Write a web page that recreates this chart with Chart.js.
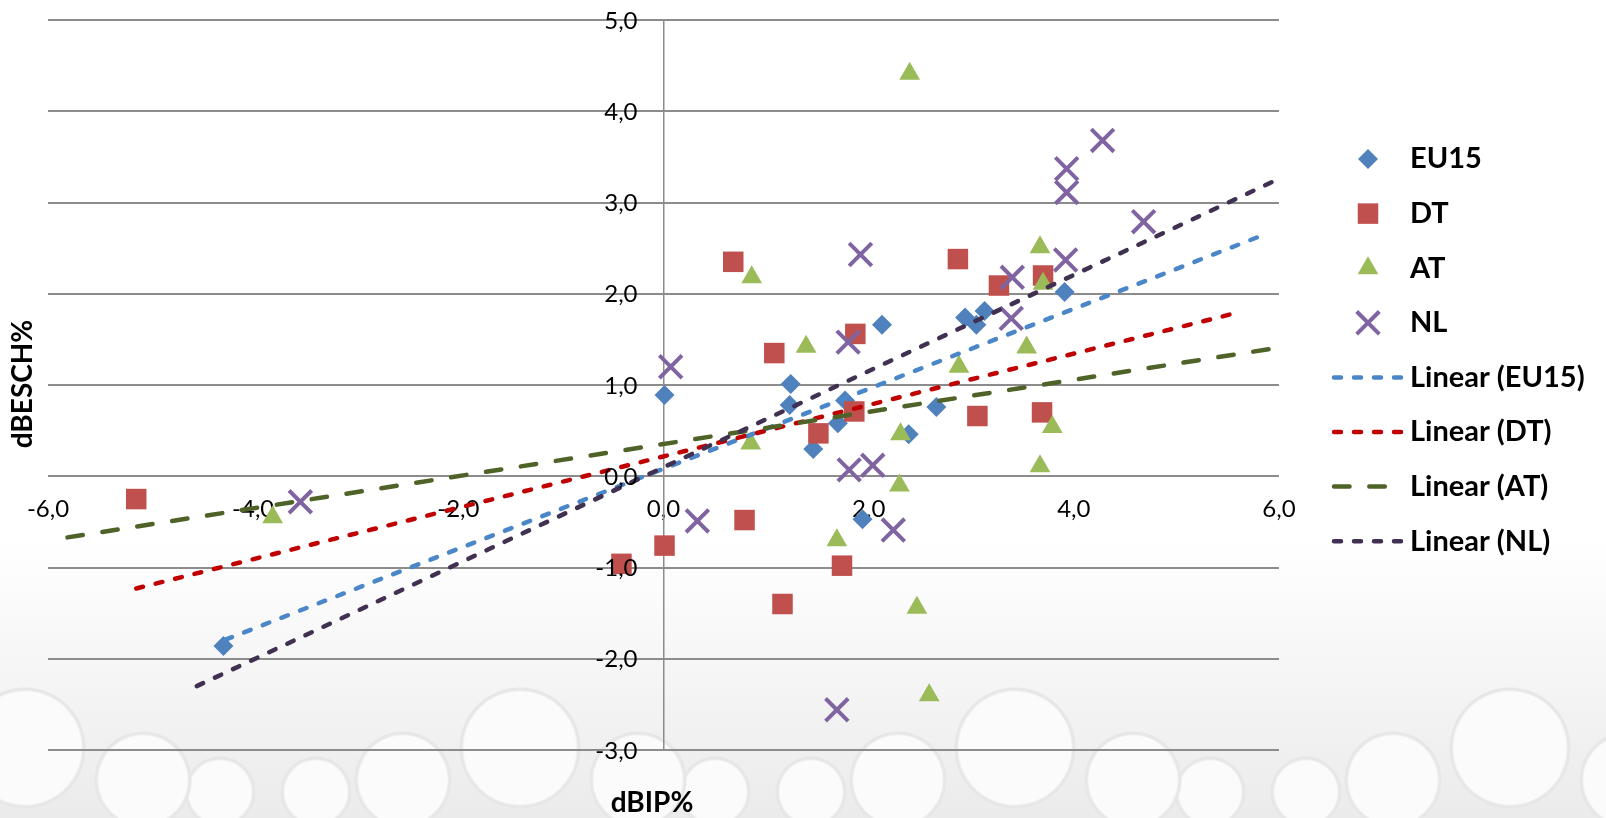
<!DOCTYPE html>
<html>
<head>
<meta charset="utf-8">
<title>dBIP% / dBESCH%</title>
<script src="https://cdn.jsdelivr.net/npm/chart.js@4.4.1/dist/chart.umd.min.js"></script>
<style>
    html, body { margin: 0; padding: 0; }
    body {
        width: 1606px;
        height: 818px;
        overflow: hidden;
        background-color: #fff;
        background-image:
            radial-gradient(circle 61px at 25px 748px, #fbfbfb 56px, #e7e7e7 58px, #e7e7e7 60px, rgba(255,255,255,0) 61px),
            radial-gradient(circle 61px at 520px 748px, #fbfbfb 56px, #e7e7e7 58px, #e7e7e7 60px, rgba(255,255,255,0) 61px),
            radial-gradient(circle 49px at 143px 780px, #fbfbfb 44px, #e7e7e7 46px, #e7e7e7 48px, rgba(255,255,255,0) 49px),
            radial-gradient(circle 49px at 403px 780px, #fbfbfb 44px, #e7e7e7 46px, #e7e7e7 48px, rgba(255,255,255,0) 49px),
            radial-gradient(circle 36px at 220px 792px, #fbfbfb 31px, #e7e7e7 33px, #e7e7e7 35px, rgba(255,255,255,0) 36px),
            radial-gradient(circle 36px at 316px 792px, #fbfbfb 31px, #e7e7e7 33px, #e7e7e7 35px, rgba(255,255,255,0) 36px),
            linear-gradient(to bottom, #ffffff 0px, #ffffff 540px, #ebebeb 818px);
        background-size: 495px 818px, 495px 818px, 495px 818px, 495px 818px, 495px 818px, 495px 818px, 1606px 818px;
        background-repeat: repeat-x;
    }
    #wrap { position: relative; width: 1606px; height: 818px; }
</style>
</head>
<body>
<div id="wrap"><canvas id="chart" width="1606" height="818"></canvas></div>
<script>
const seriesNames = ['EU15', 'DT', 'AT', 'NL'];

// points (dBIP% / dBESCH%)
const eu15X = [0.01, 1.24, 1.23, 1.70, 1.46, 1.77, 2.13, 2.66, 2.39, 2.94, 3.05, 3.13, 3.91, 1.94, -4.29];
const eu15Y = [0.89, 1.01, 0.78, 0.58, 0.30, 0.83, 1.66, 0.76, 0.46, 1.74, 1.66, 1.81, 2.02, -0.47, -1.86];

const dtX = [0.68, 1.08, 1.87, 1.51, 1.86, 2.87, 3.27, 3.70, 3.06, 3.69, 0.79, 0.01, 1.74, 1.16, -0.41, -5.14];
const dtY = [2.35, 1.35, 1.56, 0.47, 0.71, 2.38, 2.09, 2.20, 0.66, 0.70, -0.48, -0.76, -0.98, -1.40, -0.96, -0.25];

const atX = [0.86, 1.39, 0.85, 2.31, 2.88, 3.54, 3.67, 3.70, 3.79, 3.67, 2.30, 2.40, 1.69, 2.47, 2.59, -3.81];
const atY = [2.18, 1.42, 0.36, 0.46, 1.20, 1.41, 2.51, 2.11, 0.54, 0.11, -0.10, 4.41, -0.70, -1.44, -2.40, -0.45];

const nlX = [0.07, 1.92, 1.80, 3.40, 3.39, 3.92, 1.81, 2.04, 3.93, 3.93, 4.28, 4.68, 0.33, 2.24, 1.69, -3.54];
const nlY = [1.20, 2.43, 1.47, 2.18, 1.73, 2.37, 0.07, 0.12, 3.37, 3.11, 3.68, 2.79, -0.49, -0.59, -2.56, -0.28];

// trendline ends (Linear), as drawn in the picture
const eu15TrendX = [-4.27, 5.86];
const eu15TrendY = [-1.79, 2.65];
const dtTrendX = [-5.14, 5.62];
const dtTrendY = [-1.23, 1.80];
const atTrendX = [-5.81, 6.0];
const atTrendY = [-0.67, 1.41];
const nlTrendX = [-4.55, 6.0];
const nlTrendY = [-2.30, 3.26];

const markerColors = ['#4F81BD', '#C0504D', '#9BBB59', '#8064A2'];
const trendColors = ['#4A86C8', '#C00000', '#4F6228', '#403152'];

function toPoints(xs, ys) {
    return xs.map((x, i) => ({ x: x, y: ys[i] }));
}

function fmt(v) {
    return v.toFixed(1).replace('.', ',');
}

const FONT = 'Lato';
const GRID = '#8C8C8C';

// legend, axis titles and y tick labels drawn by hand:
// the built-in legend can't do the mixed swatch widths, and a centred y axis
// glues its labels onto the axis line
const decorPlugin = {
    id: 'decor',
    afterDraw(chart) {
        const ctx = chart.ctx;
        const xs = chart.scales.x;
        const ys = chart.scales.y;
        ctx.save();

        // y tick labels, left of the x=0 axis
        const axisX = xs.getPixelForValue(0);
        ctx.fillStyle = '#000';
        ctx.font = '24px ' + FONT;
        ctx.textAlign = 'right';
        ctx.textBaseline = 'middle';
        ys.ticks.forEach(t => {
            ctx.fillText(fmt(t.value), axisX - 26, ys.getPixelForValue(t.value) + 1);
        });

        // axis titles
        ctx.font = 'bold 28px ' + FONT;
        ctx.textAlign = 'center';
        ctx.fillText('dBIP%', 652, 803);
        ctx.save();
        ctx.translate(23, 384);
        ctx.rotate(-Math.PI / 2);
        ctx.fillText('dBESCH%', 0, 0);
        ctx.restore();

        // legend
        chart.data.datasets.forEach((ds, i) => {
            const y = 159 + i * 54.6;
            ctx.save();
            if (ds.showLine) {
                ctx.strokeStyle = ds.borderColor;
                ctx.lineWidth = ds.borderWidth;
                ctx.lineCap = 'round';
                ctx.setLineDash(ds.borderDash);
                ctx.beginPath();
                ctx.moveTo(1334, y);
                ctx.lineTo(1401, y);
                ctx.stroke();
            } else {
                ctx.fillStyle = ds.backgroundColor;
                ctx.strokeStyle = ds.borderColor;
                ctx.lineWidth = ds.borderWidth;
                Chart.helpers.drawPoint(ctx, {
                    pointStyle: ds.pointStyle,
                    radius: ds.pointRadius,
                    rotation: 0,
                    borderWidth: ds.borderWidth
                }, 1368, y);
            }
            ctx.restore();
            ctx.fillStyle = '#000';
            ctx.font = 'bold 29px ' + FONT;
            ctx.textAlign = 'left';
            ctx.textBaseline = 'middle';
            ctx.fillText(ds.label, 1410, y);
        });
        ctx.restore();
    }
};

function markerSet(idx, xs, ys, style, radius, order) {
    return {
        label: seriesNames[idx],
        data: toPoints(xs, ys),
        pointStyle: style,
        pointRadius: radius,
        backgroundColor: markerColors[idx],
        borderColor: markerColors[idx],
        borderWidth: style === 'crossRot' ? 4 : 0,
        showLine: false,
        order: order
    };
}

function trendSet(idx, xs, ys, dash, order) {
    return {
        label: 'Linear (' + seriesNames[idx] + ')',
        data: toPoints(xs, ys),
        showLine: true,
        borderColor: trendColors[idx],
        backgroundColor: trendColors[idx],
        borderWidth: 4.5,
        borderDash: dash,
        borderCapStyle: 'round',
        pointRadius: 0,
        fill: false,
        order: order
    };
}

const shortDash = [7, 13];
const longDash = [15.5, 19.8];

new Chart(document.getElementById('chart'), {
    type: 'scatter',
    data: {
        datasets: [
            markerSet(0, eu15X, eu15Y, 'rectRot', 10, 8),
            markerSet(1, dtX, dtY, 'rect', 14.5, 7),
            markerSet(2, atX, atY, 'triangle', 12, 6),
            markerSet(3, nlX, nlY, 'crossRot', 16, 5),
            trendSet(0, eu15TrendX, eu15TrendY, shortDash, 4),
            trendSet(1, dtTrendX, dtTrendY, shortDash, 3),
            trendSet(2, atTrendX, atTrendY, longDash, 2),
            trendSet(3, nlTrendX, nlTrendY, shortDash, 1)
        ]
    },
    options: {
        responsive: false,
        devicePixelRatio: 1,
        animation: false,
        events: [],
        layout: { padding: { left: 48, top: -2, right: 327, bottom: 68 } },
        plugins: {
            legend: { display: false },
            tooltip: { enabled: false }
        },
        scales: {
            x: {
                type: 'linear',
                min: -6,
                max: 6,
                position: { y: 0 },
                grid: { display: false, drawTicks: false },
                border: { display: false },
                ticks: {
                    stepSize: 2,
                    padding: 19,
                    color: '#000',
                    font: { family: FONT, size: 24 },
                    callback: v => fmt(v)
                }
            },
            y: {
                type: 'linear',
                min: -3,
                max: 5,
                position: { x: 0 },
                grid: { color: GRID, lineWidth: 2, drawTicks: false },
                border: { display: true, color: GRID, width: 1.5 },
                ticks: {
                    display: false,
                    stepSize: 1
                }
            }
        }
    },
    plugins: [decorPlugin]
});
</script>
</body>
</html>
